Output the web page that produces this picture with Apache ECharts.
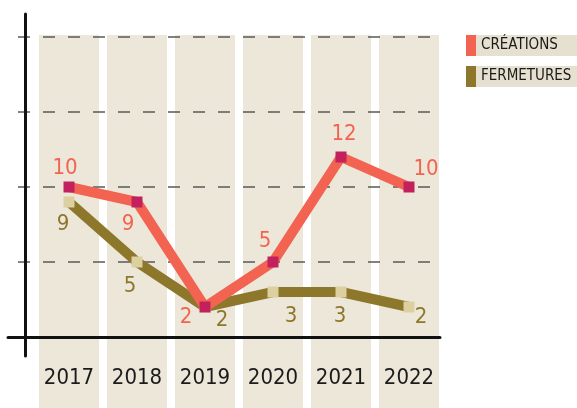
<!DOCTYPE html>
<html>
<head>
<meta charset="utf-8">
<script src="https://cdn.jsdelivr.net/npm/echarts@6/dist/echarts.min.js"></script>
<style>
  html, body { margin: 0; padding: 0; background: #fff; }
  #chart { width: 577px; height: 408px; }
</style>
</head>
<body>
<div id="chart"></div>
<script>
// data
const categories = ['2017', '2018', '2019', '2020', '2021', '2022'];
const creations = [10, 9, 2, 5, 12, 10];
const fermetures = [9, 5, 2, 3, 3, 2];
const columnFill = [1, 1, 1, 1, 1, 1];

// label offsets (px from the marker)
const creationsLabelOffset = [[-4, -19], [-9, 22], [-19, 10], [-8, -21], [3, -23], [17, -18]];
const fermeturesLabelOffset = [[-6, 22], [-7, 24], [17, 13], [18, 24], [-1, 24], [12, 10]];

const font = "'Liberation Sans Narrow', 'DejaVu Sans Condensed', 'Roboto Condensed', sans-serif";
const colors = {
    creations: '#F26451',
    creationsMark: '#C2215E',
    fermetures: '#8D772B',
    fermeturesMark: '#DDD0A0',
    column: '#EDE7DA',
    legendBg: '#E6E0D0'
};

function withLabels(values, offsets) {
    return values.map(function (v, i) {
        return { value: v, label: { offset: offsets[i] } };
    });
}

function legendFor(name, color, top) {
    return {
        data: [{ name: name, icon: 'rect', itemStyle: { color: color } }],
        left: 466, top: top, padding: 0, itemWidth: 10, itemHeight: 21,
        backgroundColor: colors.legendBg, selectedMode: false,
        formatter: function (n) { return '{t|' + n + '}'; },
        textStyle: {
            rich: {
                t: { width: 96, height: 21, lineHeight: 21, fontFamily: font, fontSize: 15, color: '#1a1a1a' }
            }
        }
    };
}

var option = {
    animation: false,
    legend: [
        legendFor('CRÉATIONS', colors.creations, 35),
        legendFor('FERMETURES', colors.fermetures, 66)
    ],
    grid: [
        { left: 35, right: 134, top: 37, bottom: 71 },   // lines
        { left: 8, right: 137, top: 37, bottom: 71 },    // gridlines + x axis line
        { left: 25, right: 137, top: 14, bottom: 52 },   // y axis line
        { left: 35, right: 134, top: 35, bottom: 0 }     // columns
    ],
    xAxis: [
        {
            gridIndex: 0, type: 'category', data: categories, z: 2,
            axisLine: { show: false }, axisTick: { show: false }, splitLine: { show: false },
            axisLabel: { margin: 30, fontFamily: font, fontSize: 22, color: '#1b1b1b' }
        },
        {
            gridIndex: 1, type: 'value', min: 0, max: 1, z: 2,
            axisLine: { show: true, onZero: false, lineStyle: { color: '#111', width: 3 } },
            axisTick: { show: false }, axisLabel: { show: false }, splitLine: { show: false }
        },
        {
            gridIndex: 2, type: 'value', min: 0, max: 1, show: false
        },
        {
            gridIndex: 3, type: 'category', data: categories, show: false
        }
    ],
    yAxis: [
        { gridIndex: 0, type: 'value', min: 0, max: 20, interval: 5, show: false },
        {
            gridIndex: 1, type: 'value', min: 0, max: 20, interval: 5, z: 2,
            axisLine: { show: false }, axisTick: { show: false }, axisLabel: { show: false },
            splitLine: { show: true, lineStyle: { color: '#5a5a5a', width: 1.5, type: [12, 13], dashOffset: 15 } }
        },
        {
            gridIndex: 2, type: 'value', min: 0, max: 1, z: 2,
            axisLine: { show: true, onZero: false, lineStyle: { color: '#111', width: 3 } },
            axisTick: { show: false }, axisLabel: { show: false }, splitLine: { show: false }
        },
        { gridIndex: 3, type: 'value', min: 0, max: 1, show: false }
    ],
    series: [
        {
            name: 'columns', type: 'bar', xAxisIndex: 3, yAxisIndex: 3, z: 1,
            data: columnFill, barWidth: 60, silent: true,
            itemStyle: { color: colors.column }
        },
        {
            name: 'FERMETURES', type: 'line', xAxisIndex: 0, yAxisIndex: 0, z: 3,
            data: withLabels(fermetures, fermeturesLabelOffset),
            symbol: 'rect', symbolSize: 11,
            lineStyle: { color: colors.fermetures, width: 10 },
            itemStyle: { color: colors.fermeturesMark },
            label: { show: true, position: 'inside', fontFamily: font, fontSize: 22, color: colors.fermetures }
        },
        {
            name: 'CRÉATIONS', type: 'line', xAxisIndex: 0, yAxisIndex: 0, z: 4,
            data: withLabels(creations, creationsLabelOffset),
            symbol: 'rect', symbolSize: 11,
            lineStyle: { color: colors.creations, width: 10 },
            itemStyle: { color: colors.creationsMark },
            label: { show: true, position: 'inside', fontFamily: font, fontSize: 22, color: colors.creations }
        }
    ]
};

var chart = echarts.init(document.getElementById('chart'));
chart.setOption(option);
</script>
</body>
</html>
